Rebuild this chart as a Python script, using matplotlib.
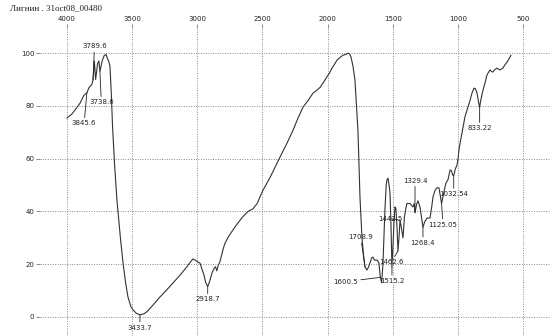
import matplotlib
matplotlib.use("Agg")
import matplotlib.pyplot as plt
import numpy as np

# IR spectrum: wavenumber (cm-1) and transmittance (%)
wavenumber = [4000, 3960, 3930, 3900, 3870, 3847, 3830, 3810, 3800, 3790, 3780,
              3765, 3755, 3747, 3730, 3715, 3700, 3690, 3680, 3670, 3660, 3650,
              3635, 3616, 3590, 3570, 3550, 3532, 3510, 3493, 3470, 3440, 3410,
              3386, 3340, 3286, 3240, 3186, 3130, 3080, 3050, 3033, 3015, 3000,
              2979, 2960, 2949, 2935, 2920, 2905, 2887, 2870, 2860, 2850, 2840,
              2826, 2800, 2787, 2760, 2726, 2690, 2650, 2610, 2573, 2540, 2519,
              2496, 2440, 2365, 2310, 2265, 2230, 2189, 2150, 2112, 2080, 2058,
              2030, 2005, 1985, 1966, 1950, 1928, 1900, 1882, 1860, 1843, 1830,
              1820, 1805, 1790, 1778, 1767, 1760, 1751, 1743, 1736, 1725, 1713,
              1698, 1685, 1675, 1660, 1652, 1640, 1621, 1606, 1595, 1585, 1575,
              1560, 1550, 1544, 1536, 1528, 1521, 1513, 1506, 1500, 1490, 1483,
              1476, 1467, 1460, 1452, 1444, 1435, 1421, 1410, 1400, 1391, 1368,
              1345, 1335, 1329, 1315, 1306, 1291, 1280, 1268, 1255, 1237, 1214,
              1200, 1191, 1175, 1160, 1145, 1135, 1125, 1115, 1100, 1091, 1076,
              1060, 1050, 1040, 1032, 1020, 1007, 1000, 990, 975, 960, 945, 930,
              907, 892, 876, 865, 853, 840, 833, 825, 807, 790, 777, 754, 740,
              731, 715, 700, 690, 677, 665, 654, 640, 623, 605, 593]
transmittance = [75.4, 77, 79, 81, 84, 85, 87, 88, 89.8, 97, 90,
                 96, 97, 93, 97, 99, 99.5, 98, 97, 95, 85, 72,
                 58, 44, 30, 20.5, 13, 7.6, 4, 2.7, 1.5, 0.8, 1.2,
                 2, 4.5, 7.6, 10, 12.9, 16, 19, 21, 22, 21.5, 21,
                 20.4, 17.5, 16, 13, 11.5, 13.5, 16.7, 18.5, 19, 17.5, 19.5,
                 21, 26, 28, 30.5, 33, 35.5, 38, 40, 41, 43, 45.5,
                 48, 53, 60.6, 66, 70.8, 75, 79.5, 82, 84.8, 86, 87,
                 89, 91, 92.5, 94.3, 95.5, 97.3, 98.5, 99.2, 99.5, 100, 99.5,
                 98.5, 95, 89.8, 80, 70.8, 60, 45, 37, 30, 24, 19,
                 17.8, 19, 20.5, 22.5, 22.7, 21.5, 21.6, 20.5, 15, 13, 20,
                 40.5, 50, 52, 52.6, 50, 47, 34, 19, 25, 36, 41.7,
                 41, 34, 25, 30, 36.7, 34, 30, 38, 41, 43, 43,
                 41.7, 43, 39.5, 43, 44, 41.7, 38, 34, 36, 37.5, 37.5,
                 42, 45.5, 48, 49, 48.9, 46, 43, 45.5, 49, 50.8, 52,
                 55.7, 55.5, 53.8, 53.5, 56, 57.6, 59.5, 64, 68, 72, 76, 78.4,
                 82, 84.8, 86.7, 86.5, 84.8, 81, 79.5, 82, 86, 89, 91.7, 93.6, 93,
                 92.8, 93.8, 94.3, 94, 93.6, 94, 94.3, 95.5, 96.6, 98, 99.2]

peak_labels = ["3845.6", "3789.6", "3738.6", "3433.7", "2918.7", "1708.9",
               "1600.5", "1515.2", "1462.6", "1442.5", "1329.4", "1268.4",
               "1125.05", "1032.54", "833.22"]
peak_wn = [3847, 3800, 3747, 3440, 2920, 1713, 1595, 1506, 1460, 1444,
           1329, 1268, 1125, 1032, 833]
# label offsets in points (style only)
label_offsets = [(-2, -20), (1, 22), (1, -20), (0, -7), (0, -7), (-3, 19),
                 (-16, -3), (0, -8), (-5, -6), (2, 1), (0, 21), (0, -9),
                 (1, -13), (0, -11), (0, -13)]

x_ticks = [4000, 3500, 3000, 2500, 2000, 1500, 1000, 500]
y_ticks = [0, 20, 40, 60, 80, 100]

fig = plt.figure(figsize=(5.5, 3.36), dpi=100)
ax = fig.add_axes([40 / 550, 0, 510 / 550, 1 - 28 / 336])

ax.plot(wavenumber, transmittance, color="#333333", lw=0.8)

wn_arr = np.array(wavenumber)[::-1]
t_arr = np.array(transmittance)[::-1]
for lab, wn, (dx, dy) in zip(peak_labels, peak_wn, label_offsets):
    t = np.interp(wn, wn_arr, t_arr)
    if abs(dx) > abs(dy):
        ha, va = "right", "center"
    else:
        ha, va = "center", ("bottom" if dy > 0 else "top")
    ax.annotate(lab, xy=(wn, t), xytext=(dx, dy), textcoords="offset points",
                ha=ha, va=va, fontsize=5, color="#222",
                family=["Liberation Sans Narrow", "DejaVu Sans"],
                arrowprops=dict(arrowstyle="-", lw=0.6, color="#222",
                                shrinkA=0, shrinkB=0))

ax.set_xlim(4207, 293)
ax.set_ylim(-7.2, 109.5)
ax.set_xticks(x_ticks)
ax.set_yticks(y_ticks)
ax.xaxis.tick_top()
ax.tick_params(axis="both", labelsize=5, length=3, width=0.6, color="#777",
               pad=1, labelcolor="#222")
for lab in ax.get_xticklabels() + ax.get_yticklabels():
    lab.set_family(["Liberation Sans Narrow", "DejaVu Sans"])
ax.grid(True, color="#888", lw=0.7, linestyle=(0, (1, 1.5)))
for s in ax.spines.values():
    s.set_visible(False)

fig.text(10 / 550, 1 - 8 / 336, "Лигнин . 31oct08_00480", fontsize=6.5,
         family=["Liberation Serif", "DejaVu Serif"], va="center", ha="left",
         color="#222")

fig.savefig("out.png", dpi=100)
